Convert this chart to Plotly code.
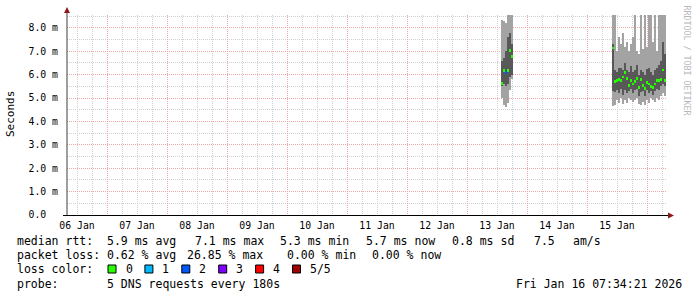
import plotly.graph_objects as go
import pandas as pd

# ---------------- data (values in ms) ----------------
# cluster 1 (13 Jan afternoon), 48-minute columns
c1_start = "2026-01-13 14:00"
c1_min = [5.0, 4.7, 4.6, 4.8, 5.36, 5.8]
c1_lo = [5.5, 5.6, 5.5, 5.6, 5.9, 6.0]
c1_med = [5.62, 6.17, 6.08, 6.17, 7.04, 6.79]
c1_hi = [6.6, 6.7, 7.0, 7.6, 7.8, 7.3]
c1_max = [8.35, 8.3, 8.2, 8.6, 8.6, 8.6]
c1_loss = [0, 0, 2, 0, 0, 0]

# cluster 2 (15 Jan 10:00 -> 16 Jan 07:30)
c2_start = "2026-01-15 10:24"
c2_min = [4.65, 4.7, 4.9, 4.8, 5.0, 4.75, 4.9, 4.8, 5.0, 4.9, 4.85, 4.9, 5.0, 4.75,
          4.7, 4.85, 4.7, 4.9, 4.8, 5.0, 4.9, 4.85, 5.0, 4.9, 5.1, 5.2, 5.1]
c2_lo = [5.3, 5.25, 5.35, 5.2, 5.4, 5.15, 5.35, 5.2, 5.3, 5.4, 5.2, 5.35, 5.4, 5.1,
         5.25, 5.3, 5.1, 5.35, 5.2, 5.3, 5.15, 5.3, 5.4, 5.35, 5.5, 5.6, 5.5]
c2_med = [7.14, 5.7, 5.75, 5.8, 5.75, 5.9, 6.1, 5.85, 5.55, 5.75, 5.6, 5.7, 5.85, 5.45,
          5.8, 5.55, 5.4, 5.65, 5.6, 5.5, 5.45, 5.6, 5.75, 5.75, 5.8, 6.2, 5.75]
c2_hi = [7.3, 6.2, 6.1, 6.3, 6.3, 6.2, 6.5, 6.2, 6.1, 6.35, 6.1, 6.2, 6.4, 6.0,
         6.2, 6.1, 6.0, 6.25, 6.3, 6.1, 6.0, 6.2, 6.3, 6.4, 6.6, 7.4, 6.9]
c2_max = [8.6, 8.6, 7.0, 7.6, 7.3, 7.8, 7.2, 7.4, 7.0, 7.3, 7.6, 8.6, 7.0, 6.9,
          8.6, 7.1, 8.6, 7.2, 8.6, 8.6, 7.4, 8.6, 7.0, 8.6, 8.6, 8.6, 8.6]
c2_loss = [0] * 27

loss_labels = ["0", "1", "2", "3", "4", "5/5"]
loss_colors = ["#26ff00", "#00b8ff", "#0059ff", "#7e00ff", "#ff0000", "#a10000"]

y_tickvals = [0, 1, 2, 3, 4, 5, 6, 7, 8]
y_ticktext = ["0.0\u00a0\u00a0", "1.0 m", "2.0 m", "3.0 m", "4.0 m", "5.0 m", "6.0 m", "7.0 m", "8.0 m"]

legend_rows = [
    ("median rtt:", ["5.9 ms avg", "7.1 ms max", "5.3 ms min", "5.7 ms now", "0.8 ms sd", "7.5", "am/s"],
     [106.7, 194, 279.3, 365, 451, 533, 572.7]),
    ("packet loss:", ["0.62 % avg", "26.85 % max", "0.00 % min", "0.00 % now"],
     [106.7, 186.7, 286, 371.7]),
]
probe_text = "5 DNS requests every 180s"
stamp_text = "Fri Jan 16 07:34:21 2026"

# ---------------- figure ----------------
W, H = 697, 297
L, R, T, B = 67, 30, 15, 82
PW, PH = W - L - R, H - T - B


def px(x):
    return (x - L) / PW


def py(y):
    return (T + PH - y) / PH


LIGHT = "#a3a3a3"
DARK = "#585858"
STEP_MS = 48 * 60 * 1000

fig = go.Figure()
for start, mn, lo, md, hi, mx, loss in [
    (c1_start, c1_min, c1_lo, c1_med, c1_hi, c1_max, c1_loss),
    (c2_start, c2_min, c2_lo, c2_med, c2_hi, c2_max, c2_loss),
]:
    t = pd.date_range(start, periods=len(md), freq="48min")
    layers = [
        (mn, lo, LIGHT),
        (lo, hi, DARK),
        (hi, mx, LIGHT),
    ]
    for b, tp, col in layers:
        fig.add_trace(go.Bar(x=t, base=b, y=[a - c for a, c in zip(tp, b)], width=STEP_MS,
                             marker=dict(color=col, line=dict(width=0)), showlegend=False,
                             hoverinfo="skip"))
    fig.add_trace(go.Bar(x=t, base=[m - 0.06 for m in md], y=[0.12] * len(md), width=STEP_MS,
                         marker=dict(color=[loss_colors[l] for l in loss], line=dict(width=0)),
                         showlegend=False, hoverinfo="skip"))

MONO = "DejaVu Sans Mono"
fig.update_layout(
    width=W, height=H, margin=dict(l=L, r=R, t=T, b=B, pad=0),
    paper_bgcolor="white", plot_bgcolor="white", barmode="overlay", bargap=0,
    font=dict(family=MONO, color="black"),
    xaxis=dict(type="date", range=["2026-01-06 08:00", "2026-01-16 08:00"],
               tick0="2026-01-06", dtick=86400000, ticklabelmode="period", tickformat="%d %b",
               showgrid=True, gridcolor="#f0a8a8", griddash="1px,1px", gridwidth=1,
               minor=dict(dtick=6 * 3600000, tick0="2026-01-06", showgrid=True,
                          gridcolor="#d0d0d0", griddash="1px,1px", gridwidth=1),
               showline=False, zeroline=False, ticks="", ticklabelstandoff=3,
               tickfont=dict(family=MONO, size=9.8), fixedrange=True),
    yaxis=dict(range=[0, 8.55], tickvals=y_tickvals, ticktext=y_ticktext,
               showgrid=True, gridcolor="#f0a8a8", griddash="1px,1px", gridwidth=1,
               minor=dict(dtick=0.5, tick0=0, showgrid=True, gridcolor="#d0d0d0",
                          griddash="1px,1px", gridwidth=1),
               showline=False, zeroline=False, ticks="", ticklabelstandoff=8,
               tickfont=dict(family=MONO, size=9.8), fixedrange=True),
)

AX = "#000000"
ARROW = "#8b1a1a"
shapes = [
    dict(type="line", xref="paper", yref="paper", x0=px(67), x1=px(67), y0=py(215.5), y1=py(12),
         line=dict(color="#404040", width=1)),
    dict(type="line", xref="paper", yref="paper", x0=px(63), x1=px(669), y0=py(215.5), y1=py(215.5),
         line=dict(color=AX, width=1.2)),
    dict(type="path", xref="paper", yref="paper",
         path=f"M {px(64)} {py(13)} L {px(70)} {py(13)} L {px(67)} {py(7)} Z",
         fillcolor=ARROW, line=dict(width=0)),
    dict(type="path", xref="paper", yref="paper",
         path=f"M {px(668)} {py(212.5)} L {px(668)} {py(218.5)} L {px(674)} {py(215.5)} Z",
         fillcolor=ARROW, line=dict(width=0)),
]

ann = []
LF = dict(family=MONO, size=11.5, color="black")


def text(x, y, s, anchor="left", font=LF):
    ann.append(dict(xref="paper", yref="paper", x=px(x), y=py(y), text=s, showarrow=False,
                    xanchor=anchor, yanchor="middle", font=font, borderpad=0))


row_y = [241, 255, 269, 283.5]
for i, (lab, items, xs) in enumerate(legend_rows):
    text(16, row_y[i], lab)
    for s, x in zip(items, xs):
        text(x - 0.5, row_y[i], s)

text(16, row_y[2], "loss color:")
for i, (lab, col) in enumerate(zip(loss_labels, loss_colors)):
    bx = 108 + i * 36.9
    shapes.append(dict(type="rect", xref="paper", yref="paper", x0=px(bx), x1=px(bx + 8),
                       y0=py(273), y1=py(265), fillcolor=col, line=dict(color="black", width=1)))
    text(bx + 16.5, row_y[2], lab)

text(16, row_y[3], "probe:")
text(106.2, row_y[3], probe_text)
text(682.5, row_y[3], stamp_text, anchor="right")

# y axis title
ann.append(dict(xref="paper", yref="paper", x=px(10), y=py(114), text="Seconds", showarrow=False,
                textangle=-90, xanchor="center", yanchor="middle",
                font=dict(family=MONO, size=11, color="black")))
# watermark
ann.append(dict(xref="paper", yref="paper", x=px(686.5), y=py(60), text="RRDTOOL / TOBI OETIKER",
                showarrow=False, textangle=90, xanchor="center", yanchor="middle",
                font=dict(family=MONO, size=8.3, color="#b8b8b8")))

fig.update_layout(shapes=shapes, annotations=ann)
fig.write_html("out.html")
